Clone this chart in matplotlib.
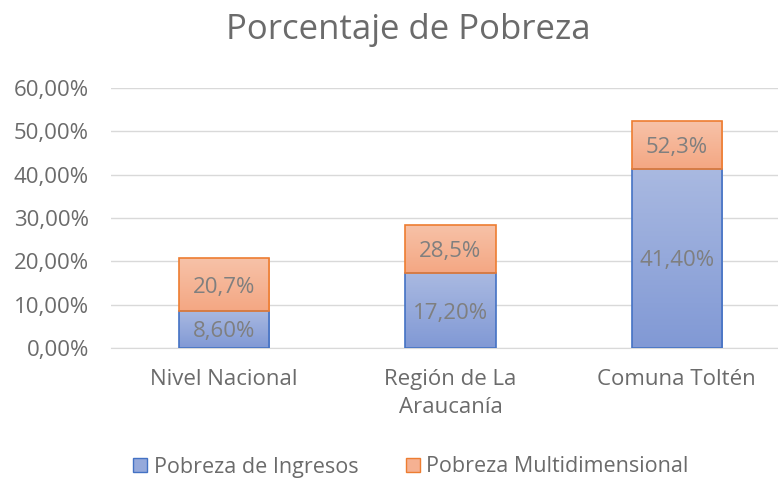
import numpy as np
import matplotlib
matplotlib.use("Agg")
import matplotlib.pyplot as plt
from matplotlib.colors import LinearSegmentedColormap
from matplotlib.patches import Patch

plt.rcParams['font.family'] = ['Open Sans', 'DejaVu Sans']

categorias = ["Nivel Nacional", "Región de La\nAraucanía", "Comuna Toltén"]
pobreza_ingresos = [8.6, 17.2, 41.4]
pobreza_multi = [20.7, 28.5, 52.3]
etiquetas_ingresos = ["8,60%", "17,20%", "41,40%"]
etiquetas_multi = ["20,7%", "28,5%", "52,3%"]
y_ticks = [0, 10, 20, 30, 40, 50, 60]

gris = '#6b6b6b'
azul_borde = '#4472C4'
naranja_borde = '#ED7D31'
cmap_azul = LinearSegmentedColormap.from_list('az', ['#8199D5', '#A9B9E1'])
cmap_nar = LinearSegmentedColormap.from_list('na', ['#F4A783', '#F7C2A8'])

fig = plt.figure(figsize=(7.78, 4.79), dpi=100)
ax = fig.add_axes([111 / 778, 131 / 479, 667 / 778, 260 / 479])

x = np.arange(len(categorias))
ancho = 0.40
grad = np.linspace(0, 1, 100).reshape(-1, 1)

bar_az = ax.bar(x, pobreza_ingresos, width=ancho, facecolor='none',
                edgecolor=azul_borde, linewidth=1.2, zorder=3)
seg_multi = [m - i for m, i in zip(pobreza_multi, pobreza_ingresos)]
bar_na = ax.bar(x, seg_multi, bottom=pobreza_ingresos, width=ancho, facecolor='none',
                edgecolor=naranja_borde, linewidth=1.2, zorder=4)

for bars, cmap in [(bar_az, cmap_azul), (bar_na, cmap_nar)]:
    for r in bars:
        x0, y0 = r.get_x(), r.get_y()
        im = ax.imshow(grad, extent=[x0, x0 + r.get_width(), y0, y0 + r.get_height()],
                       origin='lower', aspect='auto', cmap=cmap, zorder=2)
        im.set_clip_path(r)

for i in range(len(categorias)):
    ax.text(x[i], pobreza_ingresos[i] / 2, etiquetas_ingresos[i], ha='center',
            va='center_baseline', fontsize=16, color='#7f7f7f', zorder=5)
    ax.text(x[i], (pobreza_ingresos[i] + pobreza_multi[i]) / 2, etiquetas_multi[i],
            ha='center', va='center_baseline', fontsize=16, color='#7f7f7f', zorder=5)

ax.set_xlim(-0.5, 2.447)
ax.set_ylim(0, 60)
ax.set_yticks(y_ticks)
ax.set_yticklabels([f"{v},00%" for v in y_ticks])
ax.set_xticks(x)
ax.set_xticklabels(categorias, linespacing=1.45)
ax.tick_params(length=0, labelsize=16, labelcolor=gris)
ax.tick_params(axis='y', pad=16)
ax.tick_params(axis='x', pad=15)
ax.grid(axis='y', color='#D9D9D9', linewidth=1, zorder=0)
ax.set_axisbelow(True)
for s in ['top', 'right', 'left']:
    ax.spines[s].set_visible(False)
ax.spines['bottom'].set_color('#D9D9D9')

fig.text(408 / 778, 1 - 30 / 479, "Porcentaje de Pobreza", ha='center', va='center',
         fontsize=25, color=gris)

handles = [Patch(facecolor='#95A9DB', edgecolor=azul_borde, label='Pobreza de Ingresos'),
           Patch(facecolor='#F5B192', edgecolor=naranja_borde, label='Pobreza Multidimensional')]
fig.legend(handles=handles, loc='center', bbox_to_anchor=(411 / 778, 1 - 467 / 479), ncol=2,
           frameon=False, fontsize=15.5, labelcolor=gris, handlelength=0.65, handleheight=0.65,
           handletextpad=0.3, columnspacing=2.2)

fig.savefig("out.png", dpi=100)
